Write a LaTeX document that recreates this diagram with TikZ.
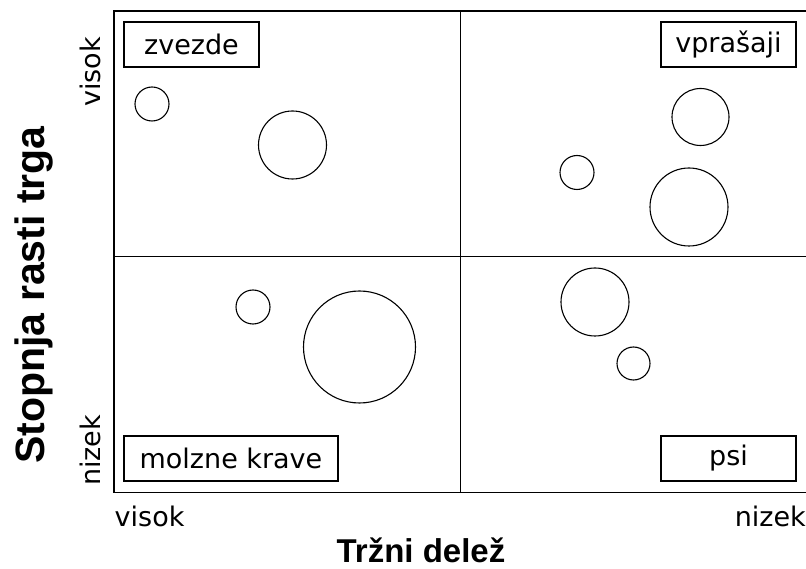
\documentclass[tikz,border=0pt]{standalone}
\usepackage{fontspec}
\setmainfont{DejaVu Sans}
\newfontfamily\naslovfont{Liberation Sans}

\begin{document}
\begin{tikzpicture}[x=1pt,y=1pt,font=\fontsize{27}{32}\selectfont]

\tikzset{
  oznaka/.style={draw,line width=1.2pt,minimum width=135pt,minimum height=45pt,inner sep=0pt},
  naslov/.style={font=\naslovfont\bfseries\fontsize{33}{38}\selectfont,inner sep=0pt},
  stopnja/.style={inner sep=0pt},
  krog/.style={line width=1.1pt},
}
\useasboundingbox (0,0) rectangle (806,568);

% mreza s stirimi kvadranti
\draw[line width=1.3pt] (114,557) rectangle (807,75.5);
\draw[line width=1.3pt] (460.5,557) -- (460.5,75.5) (114,311.5) -- (807,311.5);

% kvadranti
\node[oznaka] (zvezde) at (191.5,523.5) {zvezde};
\node[oznaka] (vprasaji) at (728.5,523.5) {vprašaji};
\node[oznaka,minimum width=214pt] (krave) at (231,109.5) {molzne krave};
\node[oznaka] (psi) at (728.5,109.5) {psi};

% izdelki
\draw[krog] (152,464) circle (17);
\draw[krog] (292.5,423) circle (34);
\draw[krog] (700.5,451) circle (28.5);
\draw[krog] (577,395.5) circle (17);
\draw[krog] (689,361) circle (39);
\draw[krog] (253,261) circle (17);
\draw[krog] (359.5,221) circle (56);
\draw[krog] (595,266) circle (34);
\draw[krog] (633.5,204.5) circle (16.5);

% osi
\node[stopnja,anchor=base west] (xvisok) at (114.5,42) {visok};
\node[stopnja,anchor=base east] (xnizek) at (806,42) {nizek};
\node[stopnja,anchor=base west,rotate=90] (yvisok) at (100,461) {visok};
\node[stopnja,anchor=base west,rotate=90] (ynizek) at (100,82) {nizek};

\node[naslov,anchor=base] (trzni) at (421,6) {Tržni delež};
\node[naslov,font=\naslovfont\bfseries\fontsize{41}{46}\selectfont,anchor=base,rotate=90] (rast) at (44,273) {Stopnja rasti trga};

\end{tikzpicture}
\end{document}
